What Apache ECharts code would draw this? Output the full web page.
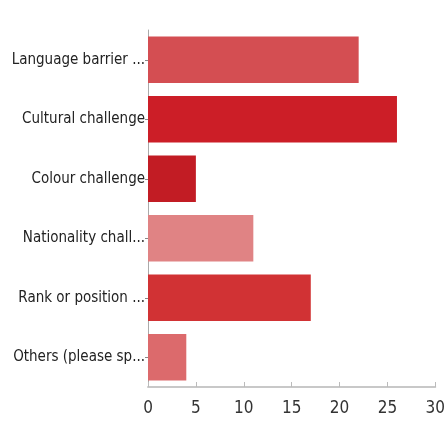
<!DOCTYPE html>
<html>
<head>
<meta charset="utf-8">
<script src="https://cdn.jsdelivr.net/npm/echarts@6/dist/echarts.min.js"></script>
<style>
html, body { margin: 0; padding: 0; background: #fff; }
#chart { width: 448px; height: 421px; }
</style>
</head>
<body>
<div id="chart"></div>
<script>
// categories top to bottom
var categories = ['Language barrier ...', 'Cultural challenge', 'Colour challenge', 'Nationality chall...', 'Rank or position ...', 'Others (please sp...'];
var counts = [22, 26, 5, 11, 17, 4];
var barColors = ['#d44e52', '#cc1e27', '#c21c24', '#e08384', '#d13234', '#dc6a6c'];
var xTicks = [0, 5, 10, 15, 20, 25, 30];

var myChart = echarts.init(document.getElementById('chart'));
var option = {
	animation: false,
	grid: {
		left: 148,
		right: 12,
		top: 30,
		bottom: 34
	},
	xAxis: {
		type: 'value',
		min: xTicks[0],
		max: xTicks[xTicks.length - 1],
		interval: 5,
		axisLine: { show: true, lineStyle: { color: '#c8c8c8', width: 2 } },
		axisTick: { show: true, inside: true, length: 5, lineStyle: { color: '#bbb' } },
		splitLine: { show: false },
		axisLabel: {
			color: '#333',
			fontSize: 17,
			fontFamily: 'DejaVu Sans Condensed, sans-serif',
			margin: 13
		}
	},
	yAxis: {
		type: 'category',
		inverse: true,
		data: categories,
		axisLine: { show: true, lineStyle: { color: '#aaa', width: 1 } },
		axisTick: { show: true, alignWithLabel: true, length: 3, lineStyle: { color: '#888' } },
		axisLabel: {
			color: '#222',
			fontSize: 15,
			fontFamily: 'DejaVu Sans Condensed, sans-serif',
			margin: 3
		}
	},
	series: [{
		type: 'bar',
		data: counts.map(function (v, i) {
			return { value: v, itemStyle: { color: barColors[i] } };
		}),
		barCategoryGap: '22%'
	}]
};
myChart.setOption(option);
</script>
</body>
</html>
